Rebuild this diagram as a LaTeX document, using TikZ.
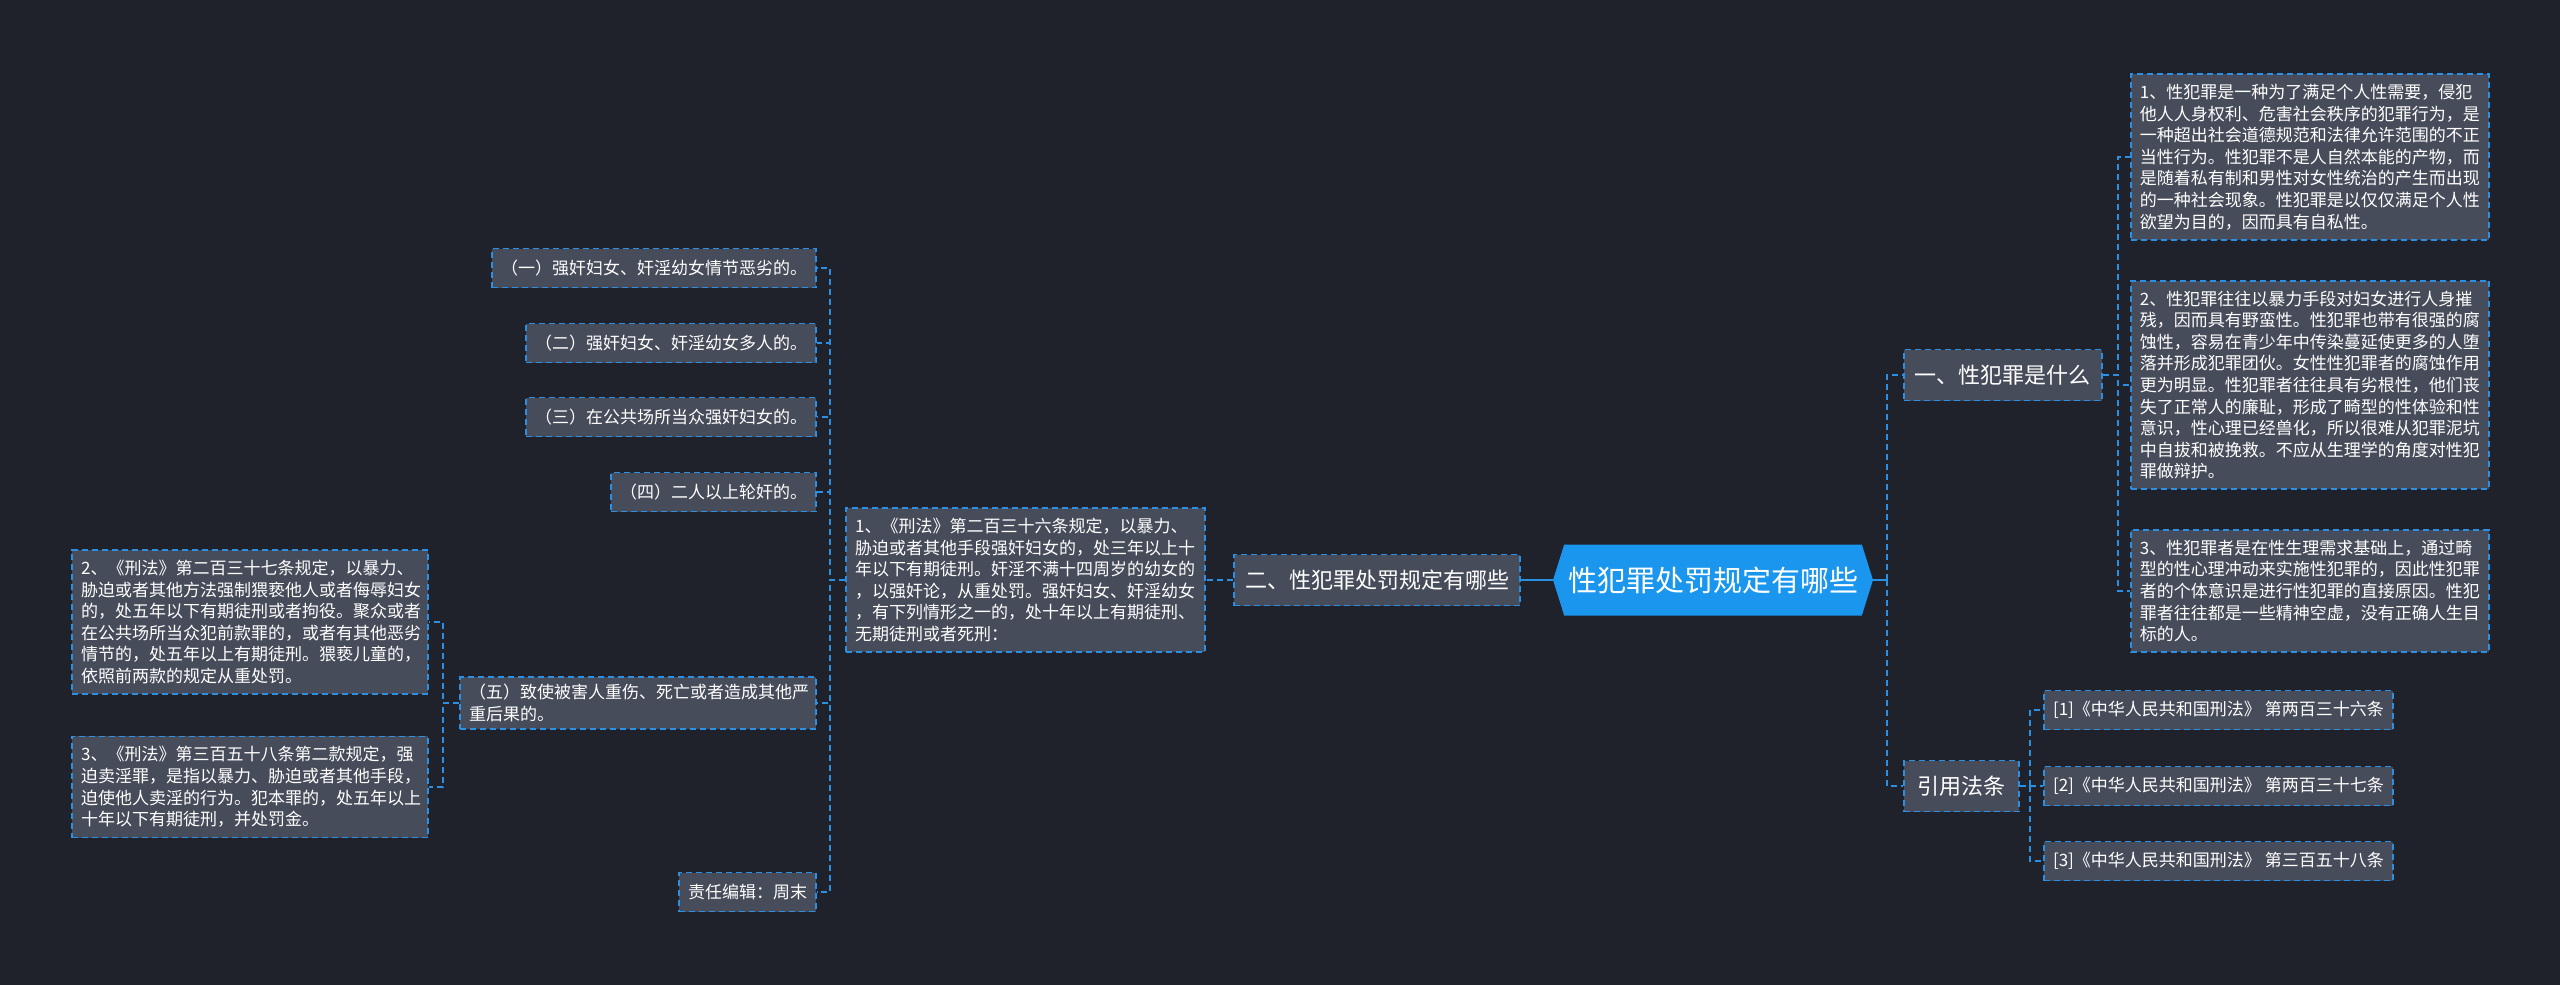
\documentclass[tikz,border=0pt]{standalone}
\usepackage{fontspec}
\setmainfont{Noto Sans CJK SC}
\usetikzlibrary{shapes.symbols}

\definecolor{bgdark}{HTML}{1F222B}
\definecolor{boxgray}{HTML}{474C5A}
\definecolor{linkblue}{HTML}{2B8FE3}
\definecolor{rootblue}{HTML}{1A96EF}

\begin{document}
\begin{tikzpicture}[x=1pt, y=-1pt, % pixel-like units, y downwards
    box/.style={draw=linkblue, dash pattern=on 6pt off 4pt, line width=1.8pt,
      fill=boxgray, text=white, inner xsep=9pt, inner ysep=10pt, align=left,
      font=\fontsize{17pt}{21.6pt}\selectfont},
    leaf/.style={box, inner ysep=4pt, minimum height=39pt},
    mid/.style={box, inner xsep=11pt, minimum height=51pt,
      font=\fontsize{22pt}{26pt}\selectfont},
    rootnode/.style={signal, signal to=west and east, signal pointer angle=145,
      fill=rootblue, text=white, minimum width=320pt, minimum height=71pt,
      font=\fontsize{29pt}{34pt}\selectfont},
    link/.style={draw=linkblue, line width=1.8pt, dash pattern=on 6pt off 4pt},
    solidlink/.style={draw=linkblue, line width=1.8pt}]

    % Background
    \path[use as bounding box, fill=bgdark] (0,0) rectangle (2560,985);

    % Root
    \node[rootnode] (root) at (1713,580) {性犯罪处罚规定有哪些};

    % Right branch
    \node[mid, anchor=west, minimum width=197pt] (whatis) at (1903,375) {一、性犯罪是什么};
    \node[mid, anchor=west, minimum width=115pt] (cite) at (1903,786) {引用法条};

    \node[box, anchor=west, text width=340pt] (def1) at (2130,157) {%
      1、性犯罪是一种为了满足个人性需要，侵犯\\%
      他人人身权利、危害社会秩序的犯罪行为，是\\%
      一种超出社会道德规范和法律允许范围的不正\\%
      当性行为。性犯罪不是人自然本能的产物，而\\%
      是随着私有制和男性对女性统治的产生而出现\\%
      的一种社会现象。性犯罪是以仅仅满足个人性\\%
      欲望为目的，因而具有自私性。};
    \node[box, anchor=west, text width=340pt] (def2) at (2130,385) {%
      2、性犯罪往往以暴力手段对妇女进行人身摧\\%
      残，因而具有野蛮性。性犯罪也带有很强的腐\\%
      蚀性，容易在青少年中传染蔓延使更多的人堕\\%
      落并形成犯罪团伙。女性性犯罪者的腐蚀作用\\%
      更为明显。性犯罪者往往具有劣根性，他们丧\\%
      失了正常人的廉耻，形成了畸型的性体验和性\\%
      意识，性心理已经兽化，所以很难从犯罪泥坑\\%
      中自拔和被挽救。不应从生理学的角度对性犯\\%
      罪做辩护。};
    \node[box, anchor=west, text width=340pt] (def3) at (2130,591) {%
      3、性犯罪者是在性生理需求基础上，通过畸\\%
      型的性心理冲动来实施性犯罪的，因此性犯罪\\%
      者的个体意识是进行性犯罪的直接原因。性犯\\%
      罪者往往都是一些精神空虚，没有正确人生目\\%
      标的人。};

    \node[leaf, anchor=west, minimum width=349pt] (ref1) at (2043,710) {[1]《中华人民共和国刑法》 第两百三十六条};
    \node[leaf, anchor=west, minimum width=349pt] (ref2) at (2043,786) {[2]《中华人民共和国刑法》 第两百三十七条};
    \node[leaf, anchor=west, minimum width=349pt] (ref3) at (2043,861) {[3]《中华人民共和国刑法》 第三百五十八条};

    % Left branch
    \node[mid, anchor=east, minimum width=286pt] (rules) at (1521,580) {二、性犯罪处罚规定有哪些};
    \node[box, anchor=east, text width=341pt] (art236) at (1206,580) {%
      1、《刑法》第二百三十六条规定，以暴力、\\%
      胁迫或者其他手段强奸妇女的，处三年以上十\\%
      年以下有期徒刑。奸淫不满十四周岁的幼女的\\%
      ，以强奸论，从重处罚。强奸妇女、奸淫幼女\\%
      ，有下列情形之一的，处十年以上有期徒刑、\\%
      无期徒刑或者死刑：};

    \node[leaf, anchor=east, minimum width=323pt] (c1) at (817,268) {（一）强奸妇女、奸淫幼女情节恶劣的。};
    \node[leaf, anchor=east, minimum width=289pt] (c2) at (817,343) {（二）强奸妇女、奸淫幼女多人的。};
    \node[leaf, anchor=east, minimum width=289pt] (c3) at (817,417) {（三）在公共场所当众强奸妇女的。};
    \node[leaf, anchor=east, minimum width=204pt] (c4) at (817,492) {（四）二人以上轮奸的。};
    \node[box, anchor=east, inner ysep=7pt, text width=338pt] (c5) at (817,703) {%
      （五）致使被害人重伤、死亡或者造成其他严\\%
      重后果的。};
    \node[leaf, anchor=east, minimum width=136pt] (editor) at (817,892) {责任编辑：周末};

    \node[box, anchor=east, text width=338pt] (art237) at (429,622) {%
      2、《刑法》第二百三十七条规定，以暴力、\\%
      胁迫或者其他方法强制猥亵他人或者侮辱妇女\\%
      的，处五年以下有期徒刑或者拘役。聚众或者\\%
      在公共场所当众犯前款罪的，或者有其他恶劣\\%
      情节的，处五年以上有期徒刑。猥亵儿童的，\\%
      依照前两款的规定从重处罚。};
    \node[box, anchor=east, text width=338pt] (art358) at (429,787) {%
      3、《刑法》第三百五十八条第二款规定，强\\%
      迫卖淫罪，是指以暴力、胁迫或者其他手段，\\%
      迫使他人卖淫的行为。犯本罪的，处五年以上\\%
      十年以下有期徒刑，并处罚金。};

    % Connectors
    \coordinate (rtrunk) at (1887,580);
    \draw[solidlink] (root.east) -- (rtrunk);
    \draw[link] (rtrunk) |- (whatis.west);
    \draw[link] (rtrunk) |- (cite.west);
    \foreach \t in {def1,def2,def3}
      \draw[link] (whatis.east) -- ++(15,0) |- (\t.west);
    \foreach \t in {ref1,ref2,ref3}
      \draw[link] (cite.east) -- ++(10,0) |- (\t.west);

    \draw[solidlink] (root.west) -- (rules.east);
    \draw[link] (rules.west) -- (art236.east);
    \foreach \t in {c1,c2,c3,c4,c5,editor}
      \draw[link] (art236.west) -- ++(-15,0) |- (\t.east);
    \foreach \t in {art237,art358}
      \draw[link] (c5.west) -- ++(-16,0) |- (\t.east);

\end{tikzpicture}
\end{document}
